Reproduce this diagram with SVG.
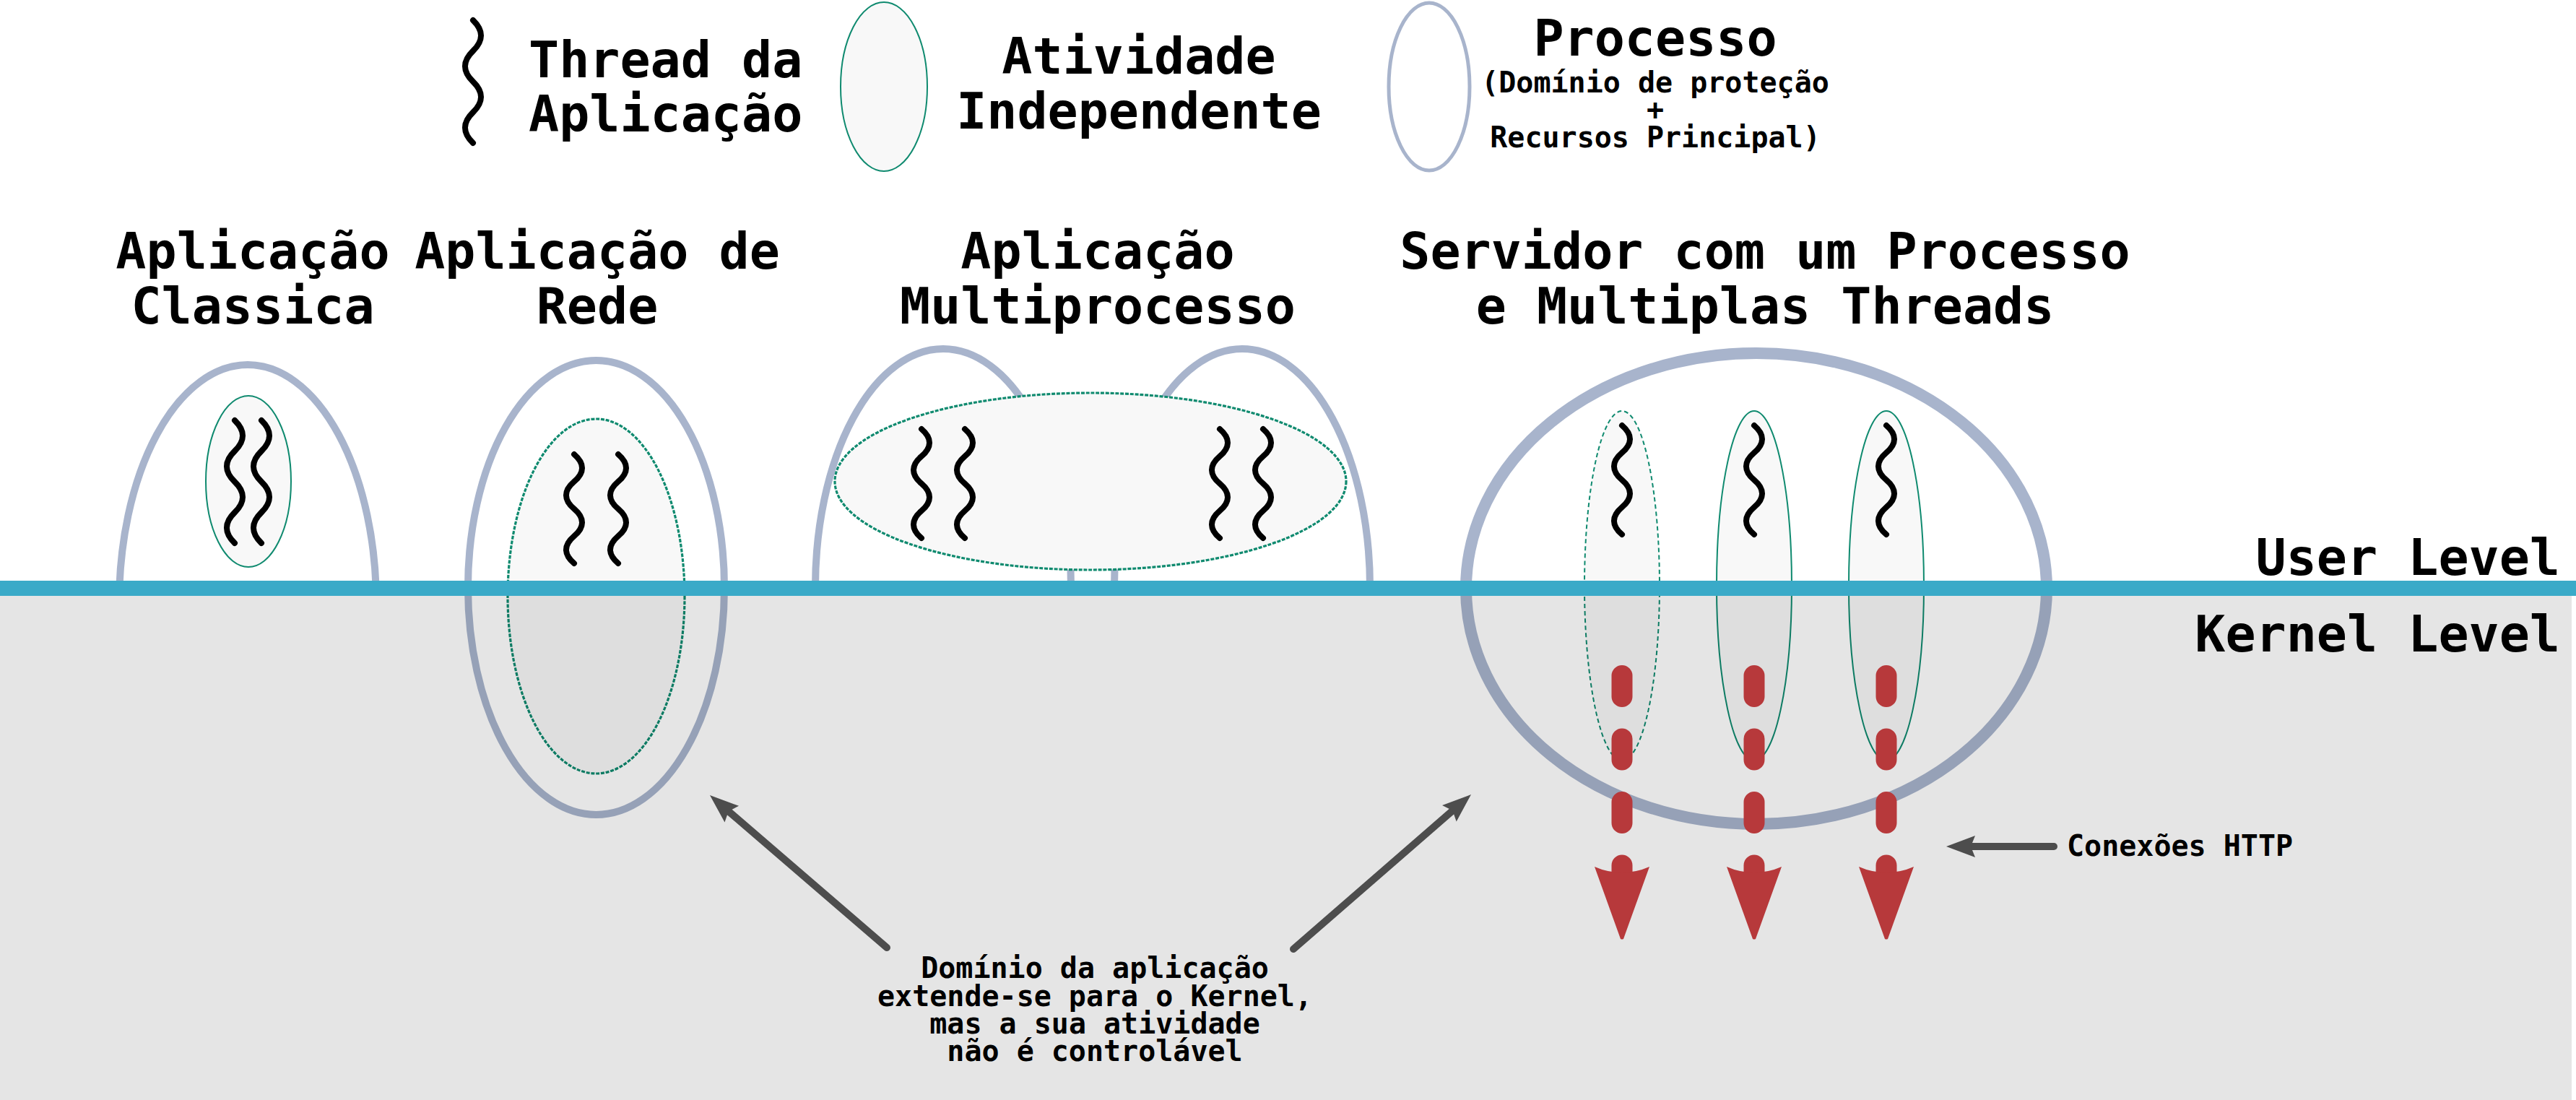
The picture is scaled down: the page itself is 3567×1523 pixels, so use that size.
<svg xmlns="http://www.w3.org/2000/svg" xmlns:xlink="http://www.w3.org/1999/xlink" width="3567" height="1523" viewBox="0 0 3567 1523">
<style>
text{font-family:"DejaVu Sans Mono","Liberation Mono",monospace;font-weight:bold;fill:#000}
.t{font-size:70px}
.s{font-size:40px}
.m{text-anchor:middle}
.proc{fill:none;stroke:#a8b4cc;stroke-width:10}
.act{fill:#f8f8f8;stroke:#0f8a6f;stroke-width:2}
.actd{fill:#f8f8f8;stroke:#0f8a6f;stroke-width:3.2;stroke-dasharray:5 1.8}
.thr{fill:none;stroke:#000;stroke-width:8;stroke-linecap:round}
.http{fill:none;stroke:#b7393b;stroke-width:29;stroke-linecap:round;stroke-dasharray:29 58.5}
.con{fill:none;stroke:#4d4d4d;stroke-width:10;stroke-linecap:round}
</style>
<defs>
<path id="sqL" class="thr" d="M0,0 c14.7,14.2 14.7,28.3 0,42.5 s-14.7,28.3 0,42.5 s14.7,28.3 0,42.5 s-14.7,28.3 0,42.5"/>
<path id="sqS" class="thr" d="M0,0 c14.7,12.6 14.7,25.2 0,37.75 s-14.7,25.2 0,37.75 s14.7,25.2 0,37.75 s-14.7,25.2 0,37.75"/>
<clipPath id="userClip"><rect x="0" y="0" width="3567" height="812"/></clipPath>
<marker id="ah" markerUnits="userSpaceOnUse" orient="auto" refX="-30" refY="0" markerWidth="60" markerHeight="40" overflow="visible">
<path d="M0,0 L-40,-15 L-34,0 L-40,15 Z" fill="#4d4d4d"/>
</marker>
<marker id="rh" markerUnits="userSpaceOnUse" orient="auto" refX="0" refY="0" markerWidth="120" markerHeight="90" overflow="visible">
<path d="M88,-2 Q89,0 88,2 L-12,38 Q-4,20 -4,0 Q-4,-20 -12,-38 Z" fill="#b7393b"/>
</marker>
</defs>
<rect x="0" y="0" width="3567" height="1523" fill="#fff"/>

<g id="legend-thread">
<use xlink:href="#sqL" x="655" y="28"/>
<text class="t" x="732" y="107">Thread da</text>
<text class="t" x="732" y="182">Aplicação</text>
</g>
<g id="legend-activity">
<ellipse class="act" cx="1224" cy="120" rx="60" ry="117"/>
<text class="t m" x="1577" y="102">Atividade</text>
<text class="t m" x="1577" y="178">Independente</text>
</g>
<g id="legend-process">
<ellipse class="proc" style="stroke-width:5" cx="1979" cy="120" rx="56" ry="116"/>
<text class="t m" x="2292" y="77">Processo</text>
<text class="s m" x="2292" y="128">(Domínio de proteção</text>
<text class="s m" x="2292" y="166">+</text>
<text class="s m" x="2292" y="204">Recursos Principal)</text>
</g>

<g id="app-classica">
<text class="t m" x="350" y="372">Aplicação</text>
<text class="t m" x="350" y="448">Classica</text>
<ellipse class="proc" clip-path="url(#userClip)" cx="343" cy="835" rx="178" ry="330"/>
<ellipse class="act" cx="344" cy="666.5" rx="59" ry="118.5"/>
<use xlink:href="#sqL" x="325" y="582"/>
<use xlink:href="#sqL" x="362" y="582"/>
</g>

<g id="app-rede">
<text class="t m" x="827" y="372">Aplicação de</text>
<text class="t m" x="827" y="448">Rede</text>
<ellipse class="proc" cx="825.5" cy="813.5" rx="177.5" ry="314.5"/>
<ellipse class="actd" cx="825.5" cy="825.5" rx="122.5" ry="245.5"/>
<use xlink:href="#sqS" x="795" y="629"/>
<use xlink:href="#sqS" x="856" y="629"/>
</g>

<g id="app-multi">
<text class="t m" x="1520" y="372">Aplicação</text>
<text class="t m" x="1520" y="448">Multiprocesso</text>
<ellipse class="proc" clip-path="url(#userClip)" cx="1306" cy="813" rx="177" ry="330"/>
<ellipse class="proc" clip-path="url(#userClip)" cx="1720" cy="813" rx="177" ry="330"/>
<ellipse class="actd" cx="1510" cy="666.5" rx="354" ry="122.5"/>
<use xlink:href="#sqS" x="1276" y="594"/>
<use xlink:href="#sqS" x="1336" y="594"/>
<use xlink:href="#sqS" x="1689" y="594"/>
<use xlink:href="#sqS" x="1749" y="594"/>
</g>

<g id="server">
<text class="t m" x="2444" y="372">Servidor com um Processo</text>
<text class="t m" x="2444" y="448">e Multiplas Threads</text>
<ellipse class="proc" style="stroke-width:16" cx="2432" cy="815" rx="402" ry="326"/>
<ellipse class="act" style="stroke-dasharray:6 4" cx="2246" cy="811" rx="52" ry="242"/>
<ellipse class="act" cx="2429" cy="811" rx="52" ry="242"/>
<ellipse class="act" cx="2612" cy="811" rx="52" ry="242"/>
<use xlink:href="#sqS" x="2246" y="589"/>
<use xlink:href="#sqS" x="2429" y="589"/>
<use xlink:href="#sqS" x="2612" y="589"/>
</g>

<g id="kernel-zone">
<rect x="0" y="825" width="3561" height="698" fill="#000" fill-opacity="0.102"/>
<rect x="0" y="804" width="3567" height="21" fill="#3aaac8"/>
</g>

<g id="http-connections">
<path class="http" d="M2246,935.5 V1212" marker-end="url(#rh)"/>
<path class="http" d="M2429,935.5 V1212" marker-end="url(#rh)"/>
<path class="http" d="M2612,935.5 V1212" marker-end="url(#rh)"/>
</g>

<g id="connectors">
<path class="con" d="M1228,1312 L1005.7,1120.6" marker-end="url(#ah)"/>
<path class="con" d="M1791,1314 L2014.4,1119.7" marker-end="url(#ah)"/>
<path class="con" d="M2844,1172 L2725,1172" marker-end="url(#ah)"/>
</g>

<g id="labels">
<text class="t" x="3545" y="796" text-anchor="end">User Level</text>
<text class="t" x="3545" y="902" text-anchor="end">Kernel Level</text>
<text class="s" x="2862" y="1185">Conexões HTTP</text>
<text class="s m" x="1516" y="1354">Domínio da aplicação</text>
<text class="s m" x="1516" y="1393">extende-se para o Kernel,</text>
<text class="s m" x="1516" y="1431">mas a sua atividade</text>
<text class="s m" x="1516" y="1469">não é controlável</text>
</g>
</svg>
